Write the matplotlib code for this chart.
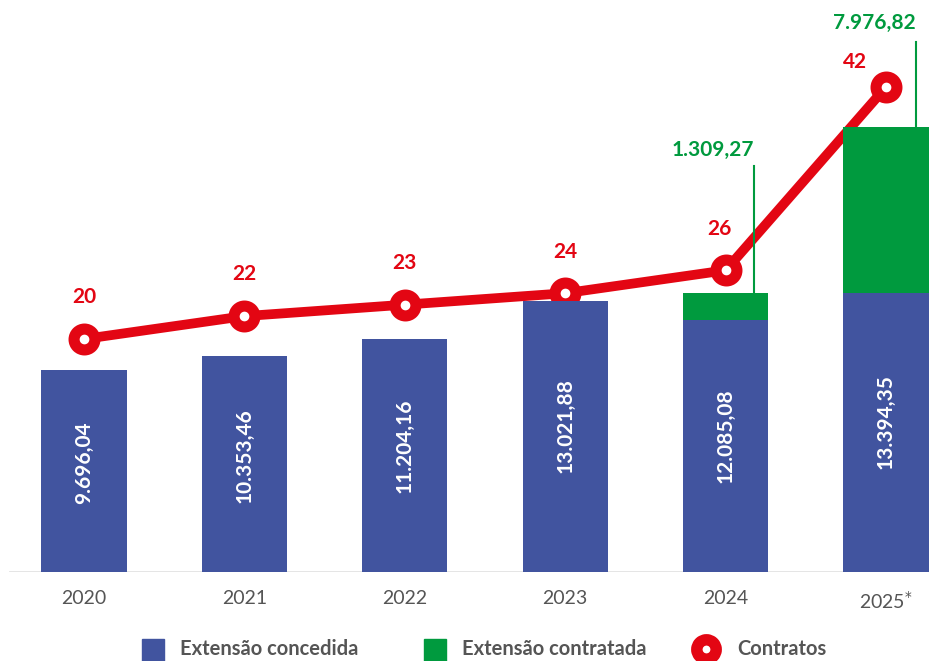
import numpy as np
import matplotlib.pyplot as plt

plt.rcParams['font.family'] = ['Lato', 'DejaVu Sans']

# Data
anos = ['2020', '2021', '2022', '2023', '2024', '2025$^{*}$']
concedida = [9696.04, 10353.46, 11204.16, 13021.88, 12085.08, 13394.35]
contratada = [0, 0, 0, 0, 1309.27, 7976.82]
contratos = [20, 22, 23, 24, 26, 42]

azul = '#41549f'
verde = '#009a3e'
vermelho = '#e30613'
cinza = '#555555'


def fmt_br(v):
    s = f'{v:,.2f}'
    return s.replace(',', 'X').replace('.', ',').replace('X', '.')


fig = plt.figure(figsize=(9.37, 6.61), dpi=100)
ax = fig.add_axes([0, 1 - 572 / 661, 1, 572 / 661])
x = np.arange(len(anos))
step = 160.4
ax.set_xlim(-84 / step, (937 - 84) / step)
ax.set_ylim(0, 572 / 0.020833)

ax.bar(x, concedida, width=0.53, color=azul, zorder=2)
ax.bar(x, contratada, width=0.53, bottom=concedida, color=verde, zorder=2)

# values inside the blue bars
for xi, v in zip(x, concedida):
    ax.text(xi, v * 0.54, fmt_br(v), rotation=90, ha='center', va='center',
            color='white', fontsize=15, fontweight='bold', zorder=3)

# baseline
ax.axhline(0, xmin=10 / 937, xmax=925 / 937, color='#e2e2e2', lw=2, zorder=1)

for s in ax.spines.values():
    s.set_visible(False)
ax.set_yticks([])
ax.set_xticks(x)
ax.set_xticklabels(anos, fontsize=14, color=cinza)
ax.tick_params(axis='x', length=0, pad=13)

# green totals with leader lines (x offset of line, line top, x offset of text, text y)
destaques = {4: (0.18, 19490, -0.08, 20250), 5: (0.19, 25440, -0.07, 26350)}
for i, (dxl, topo, dxt, yt) in destaques.items():
    total = concedida[i] + contratada[i]
    ax.plot([x[i] + dxl, x[i] + dxl], [total, topo], color=verde, lw=1.5, zorder=6)
    ax.text(x[i] + dxt, yt, fmt_br(contratada[i]), ha='center', va='center',
            color=verde, fontsize=15, fontweight='bold', zorder=6)

# line of contracts on a secondary scale
ax2 = ax.twinx()
ax2.set_ylim(-0.34, 49.6)
ax2.set_yticks([])
for s in ax2.spines.values():
    s.set_visible(False)
ax2.plot(x, contratos, color=vermelho, lw=7, marker='o', ms=15, mew=8,
         mfc='white', mec=vermelho, solid_capstyle='round', zorder=4)
offsets = [(0, 3.7), (0, 3.7), (0, 3.6), (0, 3.6), (-0.04, 3.6), (-0.19, 2.2)]
for xi, v, (dx, dy) in zip(x, contratos, offsets):
    ax2.text(xi + dx, v + dy, str(v), ha='center', va='center', color=vermelho,
             fontsize=15, fontweight='bold')

ax.set_zorder(ax2.get_zorder() + 1)
ax.patch.set_visible(False)

# legend drawn in pixel coordinates along the bottom
leg = fig.add_axes([0, 0, 1, 1], zorder=10)
leg.set_xlim(0, 937)
leg.set_ylim(661, 0)
leg.axis('off')
leg.plot(153.5, 650, marker='s', ms=16.5, color=azul, ls='none')
leg.plot(435.5, 650, marker='s', ms=16.5, color=verde, ls='none')
leg.plot(706, 649, marker='o', ms=14, mew=8.2, mfc='white', mec=vermelho, ls='none')
for xt, txt in [(180, 'Extensão concedida'), (462, 'Extensão contratada'), (737, 'Contratos')]:
    leg.text(xt, 649, txt, ha='left', va='center', color=cinza, fontsize=14.5,
             fontweight='bold')

fig.savefig('out.png', dpi=100)
